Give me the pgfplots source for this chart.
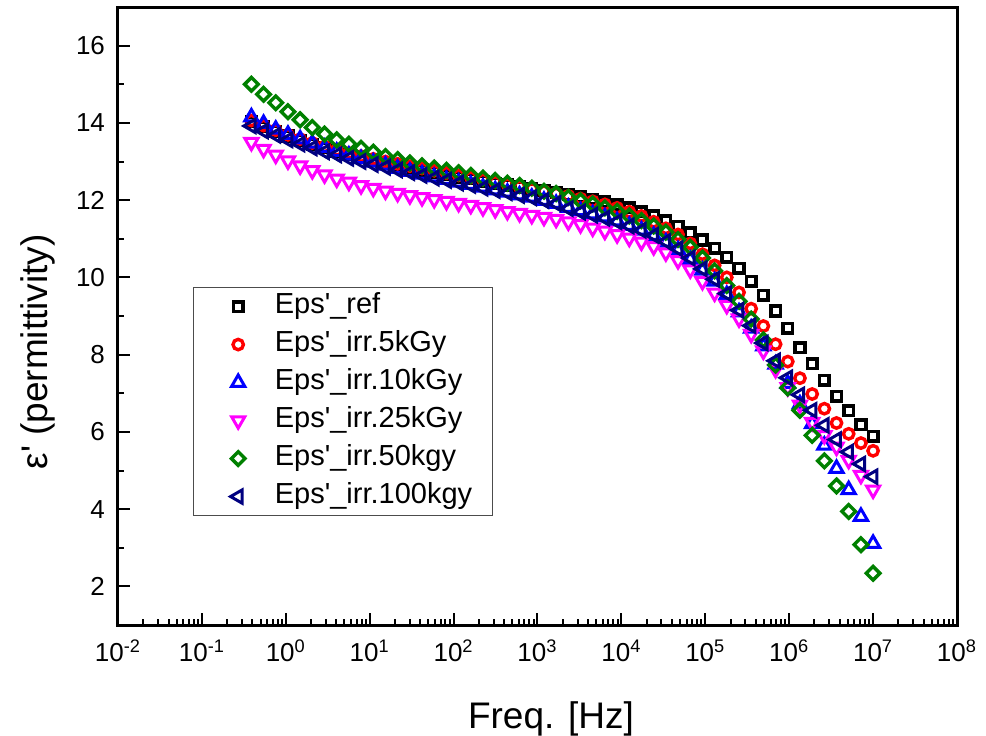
\documentclass[border=0pt]{standalone}
\usepackage{fontspec}
\setmainfont{Liberation Sans}
\usepackage{pgfplots}
\pgfplotsset{compat=1.18}
\usepackage{pgfplotstable}

\definecolor{navyb}{RGB}{0,0,128}
\definecolor{grn}{RGB}{0,128,0}
\definecolor{redp}{RGB}{255,0,0}
\definecolor{bluep}{RGB}{0,0,255}
\definecolor{magp}{RGB}{255,0,255}
\newcommand{\sq}{\textquotesingle}

% lf = log10(frequency / Hz)
\pgfplotstableread{
lf     ref   g5    g10   g25   g50   g100
7.000  5.89  5.51  3.11  4.50  2.34  4.84
6.855  6.19  5.71  3.81  4.88  3.08  5.17
6.709  6.55  5.95  4.50  5.27  3.94  5.48
6.564  6.92  6.23  5.05  5.61  4.60  5.80
6.419  7.34  6.60  5.65  5.91  5.25  6.17
6.274  7.77  6.98  6.21  6.25  5.91  6.56
6.128  8.18  7.39  6.72  6.70  6.56  6.96
5.983  8.68  7.82  7.25  7.15  7.14  7.40
5.838  9.13  8.27  7.75  7.62  7.73  7.84
5.692  9.54  8.74  8.22  8.10  8.38  8.30
5.547  9.90  9.19  8.68  8.53  8.92  8.75
5.402  10.24 9.61  9.10  8.93  9.38  9.15
5.256  10.52 10.00 9.55  9.28  9.79  9.58
5.111  10.75 10.31 9.90  9.60  10.17 9.95
4.966  10.97 10.60 10.18 9.90  10.50 10.22
4.821  11.15 10.88 10.46 10.20 10.78 10.50
4.675  11.32 11.11 10.71 10.44 10.98 10.74
4.530  11.47 11.27 10.91 10.64 11.17 10.93
4.385  11.60 11.44 11.08 10.80 11.33 11.09
4.239  11.70 11.59 11.22 10.92 11.47 11.22
4.094  11.80 11.70 11.34 11.02 11.59 11.33
3.949  11.88 11.80 11.46 11.11 11.71 11.44
3.803  11.95 11.89 11.56 11.20 11.80 11.53
3.658  12.02 11.97 11.64 11.28 11.90 11.61
3.513  12.08 12.04 11.72 11.37 11.98 11.69
3.368  12.14 12.11 11.81 11.44 12.07 11.78
3.222  12.19 12.17 11.91 11.51 12.17 11.91
3.077  12.24 12.23 11.99 11.56 12.23 11.99
2.932  12.29 12.29 12.07 11.61 12.31 12.06
2.786  12.34 12.35 12.13 11.66 12.38 12.12
2.641  12.39 12.41 12.20 11.71 12.44 12.19
2.496  12.44 12.47 12.26 11.76 12.51 12.25
2.350  12.49 12.53 12.33 11.81 12.57 12.31
2.205  12.55 12.59 12.40 11.87 12.64 12.38
2.060  12.60 12.64 12.46 11.92 12.71 12.44
1.915  12.66 12.70 12.53 11.97 12.77 12.51
1.769  12.72 12.76 12.60 12.02 12.83 12.57
1.624  12.78 12.82 12.67 12.07 12.89 12.64
1.479  12.84 12.88 12.74 12.12 12.96 12.71
1.333  12.90 12.94 12.82 12.18 13.05 12.78
1.188  12.97 13.00 12.90 12.24 13.13 12.85
1.043  13.04 13.07 12.98 12.31 13.24 12.92
0.897  13.11 13.14 13.07 12.38 13.34 13.00
0.752  13.19 13.22 13.16 12.47 13.45 13.08
0.607  13.27 13.30 13.26 12.55 13.56 13.17
0.462  13.36 13.39 13.36 12.66 13.71 13.25
0.316  13.45 13.48 13.47 12.77 13.88 13.35
0.171  13.55 13.58 13.58 12.89 14.08 13.45
0.026  13.66 13.69 13.70 13.02 14.29 13.56
-0.120 13.78 13.81 13.83 13.17 14.52 13.68
-0.265 13.90 13.93 13.98 13.32 14.74 13.79
-0.410 14.03 14.06 14.15 13.50 15.00 13.92
}\epsdata

\pgfplotsset{
  ser/.style={only marks, mark size=2.6pt,
    legend image code/.code={\path (0pt,0pt) (30pt,0pt);
      \draw[##1] plot coordinates {(14pt,0pt)};}},
}

\begin{document}
\begin{tikzpicture}
\path[use as bounding box] (-59pt,-55pt) rectangle (434pt,312.5pt);
\begin{axis}[
  scale only axis,
  width=419.5pt, height=309pt,
  xmode=log, log basis x=10,
  xmin=1e-2, xmax=1e8, ymin=1, ymax=17,
  xtick={1e-2,1e-1,1,1e1,1e2,1e3,1e4,1e5,1e6,1e7,1e8},
  xticklabels={10\textsuperscript{-2},10\textsuperscript{-1},10\textsuperscript{0},
    10\textsuperscript{1},10\textsuperscript{2},10\textsuperscript{3},10\textsuperscript{4},
    10\textsuperscript{5},10\textsuperscript{6},10\textsuperscript{7},10\textsuperscript{8}},
  minor xtick={2e-2,3e-2,4e-2,5e-2,6e-2,7e-2,8e-2,9e-2,
    2e-1,3e-1,4e-1,5e-1,6e-1,7e-1,8e-1,9e-1,
    2,3,4,5,6,7,8,9,
    20,30,40,50,60,70,80,90,
    200,300,400,500,600,700,800,900,
    2e3,3e3,4e3,5e3,6e3,7e3,8e3,9e3,
    2e4,3e4,4e4,5e4,6e4,7e4,8e4,9e4,
    2e5,3e5,4e5,5e5,6e5,7e5,8e5,9e5,
    2e6,3e6,4e6,5e6,6e6,7e6,8e6,9e6,
    2e7,3e7,4e7,5e7,6e7,7e7,8e7,9e7},
  ytick={2,4,...,16}, minor ytick={3,5,...,15},
  xtick pos=bottom, ytick pos=left,
  tick align=inside,
  major tick length=6pt, minor tick length=3pt,
  every tick/.style={black, line width=1pt},
  axis line style={line width=1.5pt},
  /pgf/number format/assume math mode=true,
  tick label style={font=\fontsize{13}{15}\selectfont},
  xticklabel style={yshift=-4pt},
  yticklabel style={xshift=-3pt},
  xlabel={Freq. [Hz]},
  ylabel={ε\sq{} (permittivity)},
  every axis x label/.style={at={(axis description cs:0.516,-0.1667)}, anchor=base,
    font=\fontsize{18.5}{20}\selectfont},
  every axis y label/.style={at={(axis description cs:-0.0846,0.442)}, rotate=90, anchor=base,
    font=\fontsize{18.5}{20}\selectfont},
  legend cell align=left,
  legend style={at={(0.0894,0.547)}, anchor=north west, draw=black!70, line width=0.6pt,
    font=\fontsize{14.5}{16}\selectfont, inner xsep=8pt, inner ysep=0pt, row sep=0pt,
    nodes={text height=11pt, text depth=4pt, inner ysep=2pt}},
]
\addplot[ser, black, mark=square, mark size=2.4pt, mark options={solid, line width=1.8pt}]
  table[x expr=10^(\thisrow{lf}), y=ref] {\epsdata};
\addlegendentry{Eps\sq\_ref}
\addplot[ser, redp, mark=o, mark options={solid, line width=1.7pt}]
  table[x expr=10^(\thisrow{lf}), y=g5] {\epsdata};
\addlegendentry{Eps\sq\_irr.5kGy}
\addplot[ser, bluep, mark=triangle, mark size=3.8pt, mark options={solid, line width=1.5pt}]
  table[x expr=10^(\thisrow{lf}), y=g10] {\epsdata};
\addlegendentry{Eps\sq\_irr.10kGy}
\addplot[ser, magp, mark=triangle, mark size=3.8pt, mark options={solid, line width=1.5pt, rotate=180}]
  table[x expr=10^(\thisrow{lf}), y=g25] {\epsdata};
\addlegendentry{Eps\sq\_irr.25kGy}
\addplot[ser, grn, mark=square, mark size=2.4pt, mark options={solid, line width=1.7pt, rotate=45}]
  table[x expr=10^(\thisrow{lf}), y=g50] {\epsdata};
\addlegendentry{Eps\sq\_irr.50kgy}
\addplot[ser, navyb, mark=triangle, mark size=3.8pt, mark options={solid, line width=1.5pt, rotate=90}]
  table[x expr=10^(\thisrow{lf}), y=g100] {\epsdata};
\addlegendentry{Eps\sq\_irr.100kgy}
\end{axis}
\end{tikzpicture}
\end{document}
